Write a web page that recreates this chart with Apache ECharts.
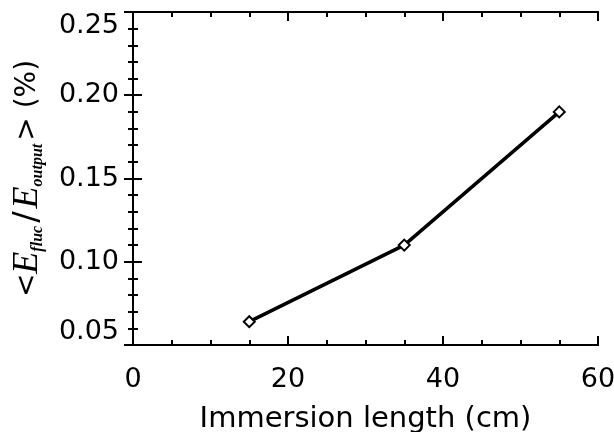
<!DOCTYPE html>
<html>
<head>
<meta charset="utf-8">
<script src="https://cdn.jsdelivr.net/npm/echarts@6/dist/echarts.min.js"></script>
<style>
  html, body { margin: 0; padding: 0; background: #fff; }
  #graph1 { width: 614px; height: 432px; }
</style>
</head>
<body>
<div id="graph1"></div>
<script>
	var myChart1 = echarts.init(document.getElementById('graph1'));

	// immersion length (cm) and fluctuation ratio (%)
	var xData = [15, 35, 55];
	var sData = [0.064, 0.110, 0.190];
	var xTicks = [0, 20, 40, 60];
	var yTicks = [0.05, 0.10, 0.15, 0.20, 0.25];

	var font = 'DejaVu Sans';
	var pts = [];
	for (var i = 0; i < xData.length; i++) {
		pts.push([xData[i], sData[i]]);
	}

	var lineStyle = { color: '#000', width: 2 };
	var box = { left: 133, right: 16, top: 12, bottom: 87, outerBoundsMode: 'none' };

	// frame axes: grid 1 carries the small ticks, grid 2 the long ones, all pointing inward
	function xFrame(grid, pos, step, len) {
		return {
			type: 'value', gridIndex: grid, position: pos,
			min: xTicks[0], max: xTicks[xTicks.length - 1], interval: step,
			axisLine: { show: true, lineStyle: lineStyle },
			axisTick: { show: true, inside: true, length: len, lineStyle: lineStyle },
			splitLine: { show: false },
			axisLabel: { show: false }
		};
	}
	function yFrame(grid, pos, step, len) {
		return {
			type: 'value', gridIndex: grid, position: pos,
			min: yTicks[0], max: yTicks[yTicks.length - 1], interval: step,
			axisLine: { show: true, lineStyle: lineStyle },
			axisTick: { show: true, inside: true, length: len, lineStyle: lineStyle },
			splitLine: { show: false },
			axisLabel: { show: false }
		};
	}

	var option = {
		animation: false,
		backgroundColor: '#fff',
		grid: [box, box, box],
		xAxis: [
			{
				type: 'value',
				gridIndex: 0,
				position: 'bottom',
				min: xTicks[0],
				max: xTicks[xTicks.length - 1],
				interval: 20,
				name: 'Immersion length (cm)',
				nameLocation: 'middle',
				nameGap: 60,
				nameTextStyle: { fontFamily: font, fontSize: 29, color: '#000' },
				axisLine: { lineStyle: lineStyle },
				axisTick: { show: false },
				splitLine: { show: false },
				axisLabel: { fontFamily: font, fontSize: 27, color: '#000', margin: 21 }
			},
			xFrame(1, 'bottom', 5, 5),
			xFrame(1, 'top', 5, 5),
			xFrame(2, 'bottom', 20, 9),
			xFrame(2, 'top', 20, 9)
		],
		yAxis: [
			{
				type: 'value',
				gridIndex: 0,
				position: 'left',
				min: yTicks[0],
				max: yTicks[yTicks.length - 1],
				interval: 0.05,
				name: '{t|<}{e|E}{s|fluc}{b|/}{e|E}{s|output}{t|>}{t| (%)}',
				nameLocation: 'middle',
				nameGap: 87,
				nameTextStyle: {
					color: '#000',
					rich: {
						t: { fontFamily: font, fontSize: 28, color: '#000' },
						b: { fontFamily: font, fontSize: 34, color: '#000', padding: [0, 3, 0, 0] },
						e: { fontFamily: 'Liberation Serif', fontStyle: 'italic', fontSize: 36, color: '#000' },
						s: { fontFamily: 'Liberation Serif', fontStyle: 'italic', fontWeight: 'bold', fontSize: 16, color: '#000', verticalAlign: 'bottom', padding: [14, 3, 0, 0] }
					}
				},
				axisLine: { lineStyle: lineStyle },
				axisTick: { show: false },
				splitLine: { show: false },
				axisLabel: {
					fontFamily: font, fontSize: 27, color: '#000', margin: 14,
					verticalAlignMinLabel: 'bottom',
					verticalAlignMaxLabel: 'top',
					formatter: function (v) { return v.toFixed(2); }
				}
			},
			yFrame(1, 'left', 0.01, 5),
			yFrame(1, 'right', 0.01, 5),
			yFrame(2, 'left', 0.05, 9),
			yFrame(2, 'right', 0.05, 9)
		],
		series: {
			name: 'ratio',
			type: 'line',
			xAxisIndex: 0,
			yAxisIndex: 0,
			data: pts,
			symbol: 'diamond',
			symbolSize: 11,
			showAllSymbol: true,
			lineStyle: { color: '#000', width: 3.5 },
			itemStyle: { color: '#fff', borderColor: '#000', borderWidth: 2 },
			z: 3
		}
	};
	myChart1.setOption(option);
</script>
</body>
</html>
